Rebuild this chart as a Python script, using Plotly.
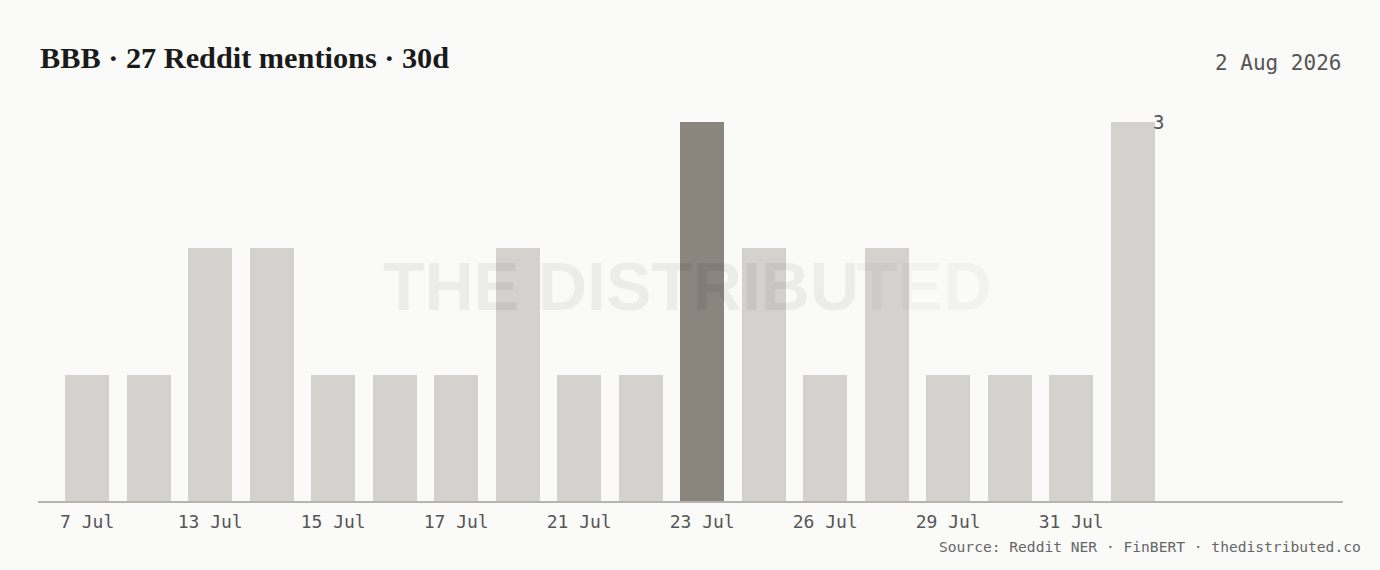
import plotly.graph_objects as go

# mention counts per day (only days with mentions)
days = ["7 Jul", "10 Jul", "13 Jul", "14 Jul", "15 Jul", "16 Jul", "17 Jul", "19 Jul", "21 Jul",
        "22 Jul", "23 Jul", "24 Jul", "26 Jul", "27 Jul", "29 Jul", "30 Jul", "31 Jul", "1 Aug"]
mentions = [1, 1, 2, 2, 1, 1, 1, 2, 1, 1, 3, 2, 1, 2, 1, 1, 1, 3]
highlight_day = "23 Jul"
tick_days = ["7 Jul", "13 Jul", "15 Jul", "17 Jul", "21 Jul", "23 Jul", "26 Jul", "29 Jul", "31 Jul"]

BG = "#fafaf8"
BAR = "#d3d2ce"
BAR_HI = "#8a857d"
MONO = "DejaVu Sans Mono"

xs = list(range(len(days)))
colors = [BAR_HI if d == highlight_day else BAR for d in days]

fig = go.Figure()
fig.add_trace(go.Bar(
    x=xs, y=mentions,
    marker=dict(color=colors, line=dict(width=0)),
    width=0.715,
    hoverinfo="skip",
))

# value label for the latest bar
fig.add_annotation(x=xs[-1] + 0.29, y=mentions[-1], text=str(mentions[-1]),
                   showarrow=False, xanchor="left", yanchor="middle",
                   font=dict(family=MONO, size=19, color="#555"))

# watermark, the tail fades out
fig.add_annotation(x=0.263, y=0.567, xref="paper", yref="paper", xanchor="left",
                   text="<b>THE DISTRIBU</b>", showarrow=False,
                   font=dict(family="Liberation Sans", size=68, color="rgba(0,0,0,0.055)"))
fig.add_annotation(x=0.7326, y=0.567, xref="paper", yref="paper", xanchor="right",
                   text="<b>TED</b>", showarrow=False,
                   font=dict(family="Liberation Sans", size=68, color="rgba(0,0,0,0.03)"))

# title + date
fig.add_annotation(x=0, y=1.17, xref="paper", yref="paper", xanchor="left", yanchor="middle",
                   text="<b>BBB · 27 Reddit mentions · 30d</b>", showarrow=False,
                   font=dict(family="Liberation Serif", size=30.3, color="#1a1a1a"))
fig.add_annotation(x=1, y=1.155, xref="paper", yref="paper", xanchor="right", yanchor="middle",
                   text="2 Aug 2026", showarrow=False,
                   font=dict(family=MONO, size=21, color="#555"))

# source line
fig.add_annotation(x=1.0155, y=-0.121, xref="paper", yref="paper", xanchor="right", yanchor="middle",
                   text="Source: Reddit NER · FinBERT · thedistributed.co", showarrow=False,
                   font=dict(family=MONO, size=14.6, color="#666"))

fig.update_layout(
    width=1380, height=570,
    margin=dict(l=38, r=37, t=122, b=69),
    paper_bgcolor=BG, plot_bgcolor=BG,
    showlegend=False,
    bargap=0,
    xaxis=dict(
        range=[-0.8, 20.42],
        tickvals=[days.index(d) for d in tick_days],
        ticktext=tick_days,
        showgrid=False, zeroline=False,
        showline=True, linecolor="#b5b4b0", linewidth=1.5,
        ticks="", ticklabelstandoff=4,
        tickfont=dict(family=MONO, size=18, color="#555"),
    ),
    yaxis=dict(
        range=[0, 3], visible=False, showgrid=False, zeroline=False,
    ),
)

fig.write_html("out.html", config={"displayModeBar": False},
               post_script="document.body.style.margin='0';")
